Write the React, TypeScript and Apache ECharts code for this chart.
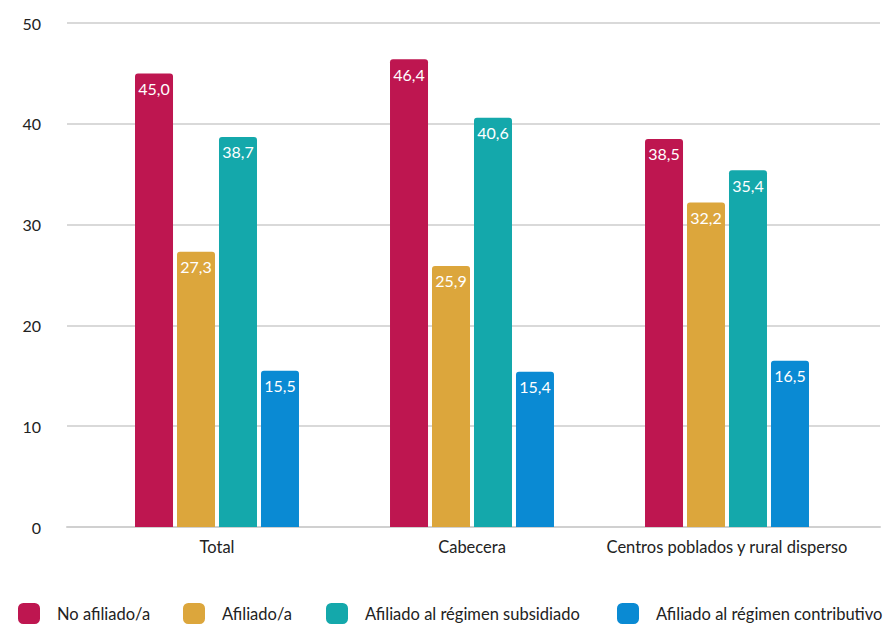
import React, { useEffect, useRef } from "react";
import * as echarts from "echarts";

const categories = ["Total", "Cabecera", "Centros poblados y rural disperso"];
const seriesNames = [
  "No afiliado/a",
  "Afiliado/a",
  "Afiliado al régimen subsidiado",
  "Afiliado al régimen contributivo",
];
const noAfiliado = [45.0, 46.4, 38.5];
const afiliado = [27.3, 25.9, 32.2];
const subsidiado = [38.7, 40.6, 35.4];
const contributivo = [15.5, 15.4, 16.5];
const yTicks = [0, 10, 20, 30, 40, 50];

const colors = ["#BE1650", "#DCA63C", "#14A8AB", "#0A8AD3"];
const FONT = "Lato, 'Noto Sans', sans-serif";

export default function App() {
  const ref = useRef<HTMLDivElement>(null);
  useEffect(() => {
    if (!ref.current) return;
    const chart = echarts.init(ref.current, null, { renderer: "svg" });
    const values = [noAfiliado, afiliado, subsidiado, contributivo];
    const legendLefts = [18, 183, 326, 617];
    chart.setOption({
      animation: false,
      textStyle: { fontFamily: FONT },
      grid: [
        { left: 89.5, right: 34.5, top: 23, bottom: 99 },
        { left: 67, right: 9, top: 23, bottom: 99 },
      ],
      legend: seriesNames.map((n, i) => ({
        data: [n],
        left: legendLefts[i],
        top: 603,
        itemWidth: 22,
        itemHeight: 21,
        itemGap: 0,
        icon: "roundRect",
        textStyle: { fontSize: 16.5, color: "#222", padding: [0, 0, 0, 12], fontFamily: FONT },
        padding: 0,
      })),
      xAxis: [
        {
          type: "category",
          gridIndex: 0,
          data: categories,
          axisLine: { show: false },
          axisTick: { show: false },
          axisLabel: { fontSize: 16.5, color: "#222", margin: 11, interval: 0, fontFamily: FONT },
        },
        {
          type: "category",
          gridIndex: 1,
          data: [""],
          show: true,
          axisLine: { show: true, lineStyle: { color: "#D0D0D0", width: 2 } },
          axisTick: { show: false },
          axisLabel: { show: false },
        },
      ],
      yAxis: [
        {
          type: "value",
          gridIndex: 0,
          min: 0,
          max: 50,
          interval: 10,
          show: false,
          splitLine: { show: false },
        },
        {
          type: "value",
          gridIndex: 1,
          min: yTicks[0],
          max: yTicks[yTicks.length - 1],
          interval: 10,
          axisLine: { show: false },
          axisTick: { show: false },
          axisLabel: { fontSize: 16, color: "#222", margin: 26, fontFamily: FONT },
          splitLine: { lineStyle: { color: "#D9D9D9", width: 2 } },
          z: 0,
        },
      ],
      series: seriesNames.map((n, i) => ({
        name: n,
        type: "bar",
        xAxisIndex: 0,
        yAxisIndex: 0,
        data: values[i],
        barWidth: 38,
        barGap: "10.5%",
        itemStyle: { color: colors[i], borderRadius: [3, 3, 0, 0] },
        z: 3,
        label: {
          show: true,
          position: "insideTop",
          distance: 7,
          color: "#fff",
          fontSize: 16,
          fontFamily: FONT,
          formatter: (p: any) => p.value.toFixed(1).replace(".", ","),
        },
      })),
    });
    return () => chart.dispose();
  }, []);
  return <div ref={ref} style={{ width: 889, height: 626, position: "absolute", left: 0, top: 0 }} />;
}
